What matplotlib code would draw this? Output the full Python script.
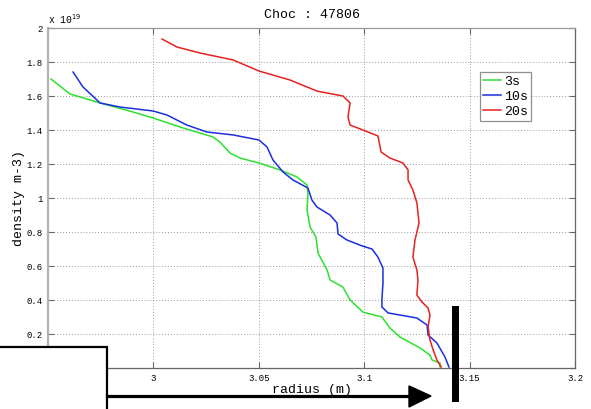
import matplotlib
matplotlib.use("Agg")
import matplotlib.pyplot as plt
from matplotlib.patches import Rectangle, Polygon
from matplotlib.lines import Line2D

plt.rcParams['font.family'] = ['Liberation Mono', 'DejaVu Sans Mono']

# radius (m) / density (x 1e19 m-3)
r_3s = [2.9514, 2.9604, 2.9747, 2.9903, 2.9998, 3.0140, 3.0283, 3.0316, 3.0363, 3.0411,
        3.0501, 3.0601, 3.0681, 3.0729, 3.0733, 3.0729, 3.0743, 3.0771, 3.0781, 3.0824,
        3.0838, 3.0899, 3.0933, 3.0994, 3.1084, 3.1122, 3.1170, 3.1265, 3.1312, 3.1322,
        3.1360, 3.1360]
n_3s = [1.700, 1.612, 1.559, 1.506, 1.471, 1.412, 1.359, 1.329, 1.265, 1.235,
        1.206, 1.165, 1.124, 1.076, 1.029, 0.929, 0.829, 0.771, 0.676, 0.576,
        0.518, 0.476, 0.400, 0.329, 0.300, 0.235, 0.182, 0.118, 0.076, 0.047,
        0.029, 0.006]

r_10s = [2.9619, 2.9666, 2.9747, 2.9842, 2.9998, 3.0065, 3.0159, 3.0254, 3.0378, 3.0501,
         3.0539, 3.0567, 3.0615, 3.0662, 3.0733, 3.0752, 3.0776, 3.0838, 3.0871, 3.0876,
         3.0918, 3.0990, 3.1037, 3.1065, 3.1089, 3.1089, 3.1084, 3.1084, 3.1113, 3.1250,
         3.1298, 3.1303, 3.1345, 3.1383, 3.1402]
n_10s = [1.741, 1.653, 1.559, 1.535, 1.512, 1.488, 1.429, 1.388, 1.371, 1.341,
         1.300, 1.224, 1.153, 1.106, 1.059, 0.988, 0.947, 0.900, 0.853, 0.788,
         0.753, 0.718, 0.700, 0.653, 0.588, 0.500, 0.400, 0.359, 0.324, 0.294,
         0.253, 0.194, 0.147, 0.065, 0.006]

r_20s = [3.0041, 3.0112, 3.0221, 3.0378, 3.0501, 3.0648, 3.0776, 3.0899, 3.0933, 3.0923,
         3.0933, 3.0994, 3.1065, 3.1080, 3.1122, 3.1184, 3.1208, 3.1208, 3.1231, 3.1250,
         3.1260, 3.1241, 3.1231, 3.1250, 3.1255, 3.1250, 3.1274, 3.1303, 3.1312, 3.1303,
         3.1312, 3.1327, 3.1345, 3.1365]
n_20s = [1.935, 1.888, 1.853, 1.812, 1.747, 1.694, 1.629, 1.600, 1.559, 1.476,
         1.429, 1.400, 1.365, 1.271, 1.235, 1.206, 1.165, 1.106, 1.047, 0.971,
         0.853, 0.753, 0.653, 0.576, 0.518, 0.429, 0.388, 0.353, 0.312, 0.241,
         0.165, 0.106, 0.047, 0.006]

labels = ['3s', '10s', '20s']
colors = ['#2ee02e', '#1a2ee0', '#e82020']
x_ticks = [2.95, 3.0, 3.05, 3.1, 3.15, 3.2]
x_ticklabels = ['2.95', '3', '3.05', '3.1', '3.15', '3.2']
y_ticks = [0, 0.2, 0.4, 0.6, 0.8, 1.0, 1.2, 1.4, 1.6, 1.8, 2.0]
y_ticklabels = ['0', '0.2', '0.4', '0.6', '0.8', '1', '1.2', '1.4', '1.6', '1.8', '2']

W, H = 591, 409
fig = plt.figure(figsize=(W / 100, H / 100), dpi=100)
ax = fig.add_axes([48 / W, 1 - 368 / H, 527 / W, 340 / H])

for r, n, lab, c in zip([r_3s, r_10s, r_20s], [n_3s, n_10s, n_20s], labels, colors):
    ax.plot(r, n, color=c, lw=1.1, label=lab, solid_joinstyle='round')

ax.set_xlim(2.95, 3.2)
ax.set_ylim(0, 2)
ax.set_xticks(x_ticks)
ax.set_xticklabels(x_ticklabels)
ax.set_yticks(y_ticks)
ax.set_yticklabels(y_ticklabels)
ax.tick_params(direction='in', top=True, right=True, length=4, width=0.8,
               color='0.4', labelsize=6.5, pad=4)
ax.grid(True, linestyle=(0, (1, 2)), color='0.6', lw=0.7)
for s in ax.spines.values():
    s.set_color('0.4')
    s.set_linewidth(0.9)
ax.spines['left'].set_color('0.7')
ax.spines['left'].set_linewidth(1.6)
ax.spines['top'].set_color('0.6')

ax.set_title('Choc : 47806', fontsize=9.5, pad=7)
ax.set_xlabel('radius (m)', fontsize=9.5, labelpad=1)
ax.set_ylabel('density m-3)', fontsize=9.5, labelpad=1)
ax.text(0.0, 1.005, r'x 10$^{19}$', transform=ax.transAxes, fontsize=7, va='bottom', ha='left')

leg = ax.legend(loc='upper left', bbox_to_anchor=((480 - 48) / 527, (368 - 72) / 340),
                fontsize=9.5, frameon=True, fancybox=False, borderpad=0.25,
                handlelength=1.35, handletextpad=0.2, labelspacing=0.22, borderaxespad=0)
leg.get_frame().set_edgecolor('0.45')
leg.get_frame().set_linewidth(0.9)


def fx(px):
    return px / W


def fy(py):
    return 1 - py / H


# overlay: white box, arrow, vertical bar
fig.add_artist(Rectangle((fx(-5), fy(415)), fx(112), 68 / H, transform=fig.transFigure,
                         facecolor='white', edgecolor='black', lw=1.6, zorder=10))
fig.add_artist(Line2D([fx(107), fx(412)], [fy(396), fy(396)], transform=fig.transFigure,
                      color='black', lw=2.3, zorder=10))
fig.add_artist(Polygon([(fx(409), fy(386)), (fx(431), fy(396)), (fx(409), fy(407))],
                       closed=True, transform=fig.transFigure, color='black', zorder=10))
fig.add_artist(Rectangle((fx(452), fy(402)), fx(7), 96 / H, transform=fig.transFigure,
                         facecolor='black', edgecolor='none', zorder=10))

fig.savefig('out.png', dpi=100)
